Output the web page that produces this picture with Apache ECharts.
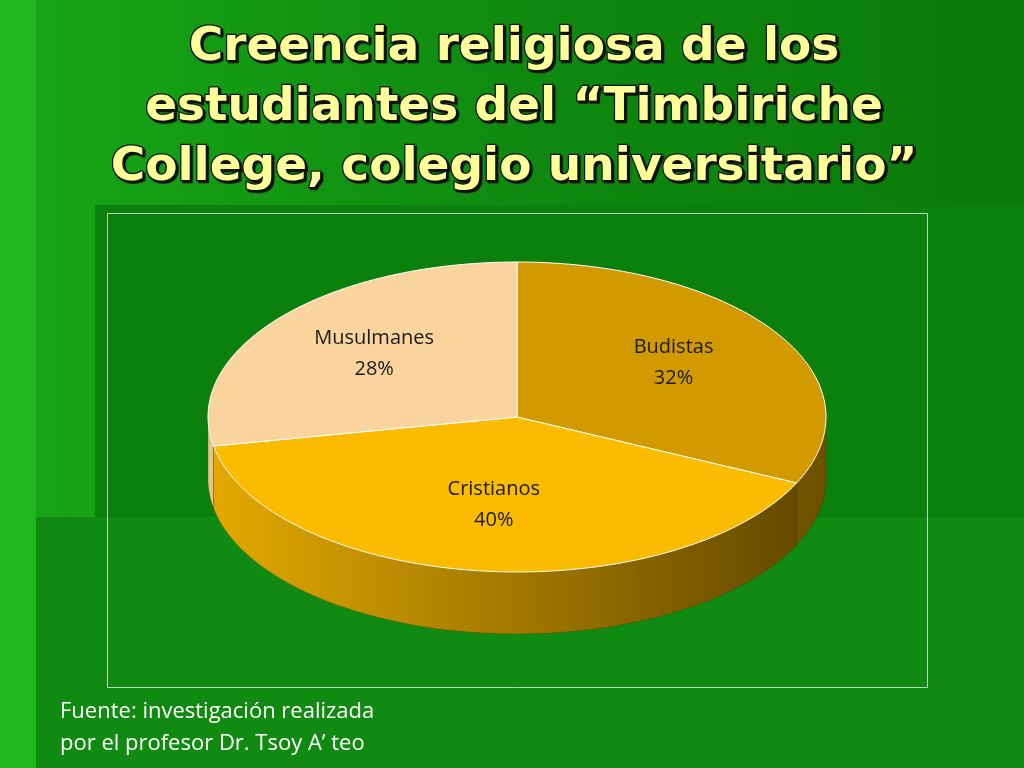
<!DOCTYPE html>
<html><head><meta charset="utf-8">
<script src="https://cdn.jsdelivr.net/npm/echarts@6/dist/echarts.min.js"></script>
<style>html,body{margin:0;padding:0;}#c{width:1024px;height:768px;}</style>
</head><body><div id="c"></div>
<script>
const categories = ['Budistas', 'Cristianos', 'Musulmanes'];
const values = [32, 40, 28];
const topColors = ['#d39a00', '#fbbc00', '#f9d49d'];
const sideDark = ['#6e5000', '#5f4600', '#b08a50'];
const sideLight = ['#b88600', '#e4a900', '#e8c48a'];

const total = values.reduce((a, b) => a + b, 0);
const starts = []; let acc = 0;
values.forEach(v => { starts.push(acc / total); acc += v; });

const chart = echarts.init(document.getElementById('c'));
const CX = 517, CY = 417, RX = 309, RY = 155, DEPTH = 62;
function pt(t, dy) { return [CX + RX * Math.sin(t), CY - RY * Math.cos(t) + (dy || 0)]; }

function renderItem(params, api) {
  const i = params.dataIndex;
  const a0 = starts[i] * 2 * Math.PI, a1 = (starts[i] + values[i] / total) * 2 * Math.PI;
  const children = [];
  const s0 = Math.max(a0, Math.PI / 2), s1 = Math.min(a1, 3 * Math.PI / 2);
  if (s1 > s0) {
    const top = [], bot = [];
    const n = 60;
    for (let k = 0; k <= n; k++) { const t = s0 + (s1 - s0) * k / n; top.push(pt(t)); bot.unshift(pt(t, DEPTH)); }
    children.push({ type: 'polygon', shape: { points: top.concat(bot) },
      style: { fill: new echarts.graphic.LinearGradient(CX - RX, 0, CX + RX, 0, [
        { offset: 0, color: sideLight[i] }, { offset: 1, color: sideDark[i] }], true),
        stroke: 'rgba(60,40,0,0.5)', lineWidth: 0.5 } });
  }
  const pts = [[CX, CY]];
  const n = 80;
  for (let k = 0; k <= n; k++) pts.push(pt(a0 + (a1 - a0) * k / n));
  children.push({ type: 'polygon', shape: { points: pts },
    style: { fill: topColors[i], stroke: '#ffffff', lineWidth: 1 } });
  const m = (a0 + a1) / 2;
  const lx = CX + RX * Math.sin(m) * 0.6, ly = CY - RY * Math.cos(m) * 0.6;
  children.push({ type: 'text', x: lx, y: ly - 4,
    style: { text: categories[i] + '\n' + values[i] + '%', fill: '#1a1a1a', font: '20px "Open Sans"',
      align: 'center', verticalAlign: 'middle', lineHeight: 31 } });
  return { type: 'group', children };
}

const titleStyle = { fill: '#ffff99', font: '900 47px "DejaVu Sans"', align: 'center',
  textShadowColor: '#111', textShadowOffsetX: 2, textShadowOffsetY: 2, textShadowBlur: 1,
  stroke: '#111', lineWidth: 2.5 };

chart.setOption({
  backgroundColor: new echarts.graphic.LinearGradient(0, 0, 1, 0, [
    { offset: 0, color: '#17a817' }, { offset: 0.5, color: '#0f8a0f' }, { offset: 1, color: '#0a7a0a' }]),
  graphic: [
    { type: 'rect', shape: { x: 95, y: 205, width: 929, height: 315 }, style: { fill: '#0c800c' }, z: -10 },
    { type: 'rect', shape: { x: 35, y: 517, width: 989, height: 251 }, style: { fill: '#118a11' }, z: -10 },
    { type: 'rect', shape: { x: 0, y: 0, width: 36, height: 768 }, style: { fill: '#1eb81e' }, z: -10 },
    { type: 'rect', shape: { x: 107.5, y: 213.5, width: 820, height: 474 }, style: { fill: 'transparent', stroke: '#b9d8b9', lineWidth: 1 }, z: -5 },
    { type: 'text', x: 514, y: 24, style: Object.assign({ text: 'Creencia religiosa de los' }, titleStyle) },
    { type: 'text', x: 514, y: 84, style: Object.assign({ text: 'estudiantes del \u201cTimbiriche' }, titleStyle) },
    { type: 'text', x: 514, y: 144, style: Object.assign({ text: 'College, colegio universitario\u201d' }, titleStyle) },
    { type: 'text', x: 60, y: 696, style: { text: 'Fuente: investigación realizada\npor el profesor Dr. Tsoy A\u2019 teo',
      fill: '#ffffff', font: '22px "Open Sans"', lineHeight: 32 } }
  ],
  series: [{ type: 'custom', coordinateSystem: 'none', renderItem,
    data: values.map((v, i) => [i, v]) }]
});
</script></body></html>
